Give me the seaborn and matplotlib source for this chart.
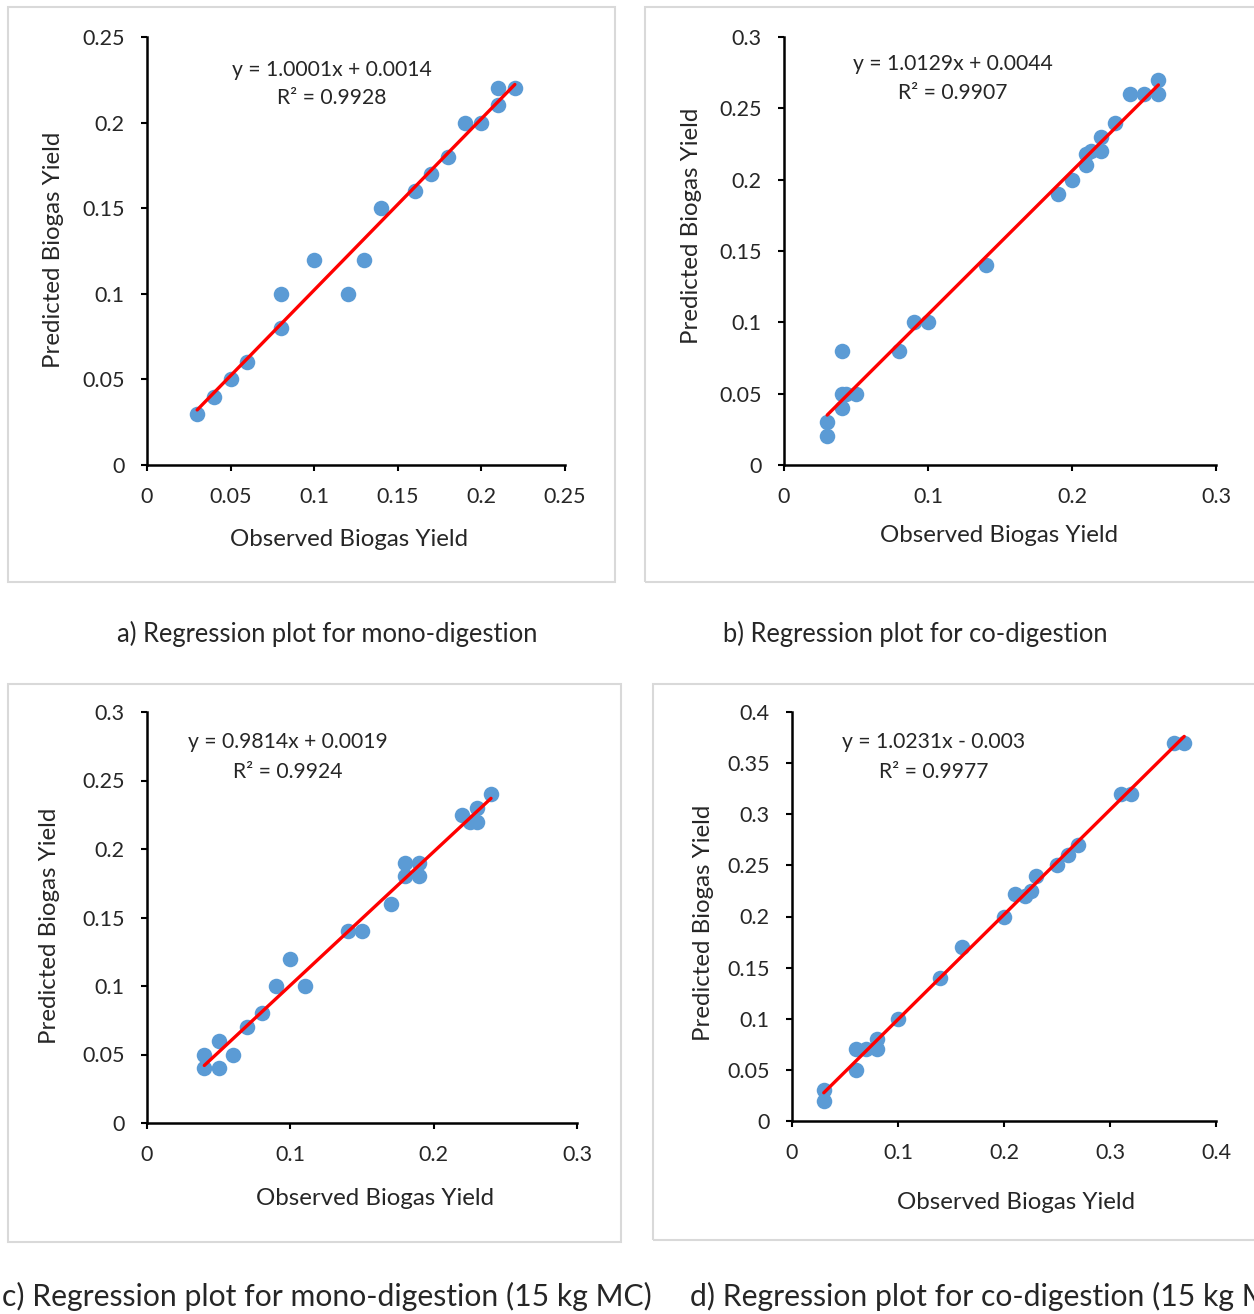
import numpy as np
import seaborn as sns
import matplotlib.pyplot as plt
from matplotlib.patches import Rectangle
from matplotlib.ticker import FuncFormatter

# a) mono-digestion
obs_a = [0.03, 0.04, 0.05, 0.06, 0.08, 0.08, 0.10, 0.12, 0.13, 0.14, 0.16, 0.17,
         0.18, 0.19, 0.20, 0.21, 0.21, 0.22]
pred_a = [0.03, 0.04, 0.05, 0.06, 0.08, 0.10, 0.12, 0.10, 0.12, 0.15, 0.16, 0.17,
          0.18, 0.20, 0.20, 0.21, 0.22, 0.22]

# b) co-digestion
obs_b = [0.03, 0.03, 0.04, 0.04, 0.043, 0.05, 0.04, 0.08, 0.09, 0.10, 0.14, 0.19,
         0.20, 0.21, 0.21, 0.213, 0.22, 0.22, 0.23, 0.24, 0.25, 0.26, 0.26]
pred_b = [0.02, 0.03, 0.04, 0.05, 0.05, 0.05, 0.08, 0.08, 0.10, 0.10, 0.14, 0.19,
          0.20, 0.21, 0.218, 0.22, 0.22, 0.23, 0.24, 0.26, 0.26, 0.26, 0.27]

# c) mono-digestion (15 kg MC)
obs_c = [0.04, 0.04, 0.05, 0.05, 0.06, 0.07, 0.08, 0.09, 0.10, 0.11, 0.14, 0.15,
         0.17, 0.18, 0.18, 0.19, 0.19, 0.22, 0.225, 0.23, 0.23, 0.24]
pred_c = [0.04, 0.05, 0.04, 0.06, 0.05, 0.07, 0.08, 0.10, 0.12, 0.10, 0.14, 0.14,
          0.16, 0.18, 0.19, 0.18, 0.19, 0.225, 0.22, 0.22, 0.23, 0.24]

# d) co-digestion (15 kg MC)
obs_d = [0.03, 0.03, 0.06, 0.06, 0.07, 0.08, 0.08, 0.10, 0.14, 0.16, 0.20, 0.21,
         0.22, 0.225, 0.23, 0.25, 0.26, 0.27, 0.31, 0.32, 0.36, 0.37]
pred_d = [0.02, 0.03, 0.05, 0.07, 0.07, 0.07, 0.08, 0.10, 0.14, 0.17, 0.20, 0.222,
          0.22, 0.225, 0.24, 0.25, 0.26, 0.27, 0.32, 0.32, 0.37, 0.37]

equations = ["y = 1.0001x + 0.0014", "y = 1.0129x + 0.0044",
             "y = 0.9814x + 0.0019", "y = 1.0231x - 0.003"]
r2_labels = ["R² = 0.9928", "R² = 0.9907", "R² = 0.9924", "R² = 0.9977"]
captions = ["a) Regression plot for mono-digestion",
            "b) Regression plot for co-digestion",
            "c) Regression plot for mono-digestion (15 kg MC)",
            "d) Regression plot for co-digestion (15 kg MC)"]

sns.set_theme(style="white")
plt.rcParams["font.family"] = ["Lato", "DejaVu Sans"]

W, H = 1254, 1314
fig = plt.figure(figsize=(W / 100, H / 100), dpi=100)


def px_rect(x0, y0, x1, y1):
    # pixel box -> figure fraction [left, bottom, width, height]
    return [x0 / W, 1 - y1 / H, (x1 - x0) / W, (y1 - y0) / H]


# grey frames around each chart
for x0, y0, x1, y1 in [(8, 7, 615, 582), (645, 7, 1262, 582),
                       (8, 684, 621, 1242), (653, 684, 1262, 1240)]:
    fig.patches.append(Rectangle((x0 / W, 1 - y1 / H), (x1 - x0) / W, (y1 - y0) / H,
                                 transform=fig.transFigure, fill=False,
                                 edgecolor="#d9d9d9", linewidth=1.5))

panels = [
    dict(x=obs_a, y=pred_a, box=(147, 37, 565, 465), lim=0.25, xt=0.05, yt=0.05,
         eq=(0.443, 0.923, 0.857), ylab=(-0.199, 0.502), xlab=(0.483, -0.15)),
    dict(x=obs_b, y=pred_b, box=(784, 37, 1216, 465), lim=0.3, xt=0.1, yt=0.05,
         eq=(0.391, 0.937, 0.869), ylab=(-0.19, 0.56), xlab=(0.498, -0.14)),
    dict(x=obs_c, y=pred_c, box=(147, 712, 577, 1123), lim=0.3, xt=0.1, yt=0.05,
         eq=(0.328, 0.927, 0.854), ylab=(-0.202, 0.479), xlab=(0.53, -0.158)),
    dict(x=obs_d, y=pred_d, box=(792, 712, 1216, 1121), lim=0.4, xt=0.1, yt=0.05,
         eq=(0.335, 0.927, 0.853), ylab=(-0.184, 0.484), xlab=(0.528, -0.174)),
]

fmt = FuncFormatter(lambda v, p: f"{round(v, 4):g}")

for i, p in enumerate(panels):
    ax = fig.add_axes(px_rect(*p["box"]))
    sns.regplot(x=np.array(p["x"]), y=np.array(p["y"]), ax=ax, ci=None,
                scatter_kws=dict(s=125, color="#5b9bd5", alpha=1, linewidths=0),
                line_kws=dict(color="#ff0000", lw=2.4))
    lim = p["lim"]
    ax.set_xlim(0, lim)
    ax.set_ylim(0, lim)
    ax.set_xticks(np.round(np.arange(0, lim + 1e-9, p["xt"]), 3))
    ax.set_yticks(np.round(np.arange(0, lim + 1e-9, p["yt"]), 3))
    ax.xaxis.set_major_formatter(fmt)
    ax.yaxis.set_major_formatter(fmt)
    for s in ["top", "right"]:
        ax.spines[s].set_visible(False)
    for s in ["left", "bottom"]:
        ax.spines[s].set_color("black")
        ax.spines[s].set_linewidth(1.8)
    ax.tick_params(axis="both", direction="out", length=4, width=1.5,
                   color="black", labelsize=15.5, pad=12, left=True, bottom=True)
    ax.set_xlabel("Observed Biogas Yield", fontsize=17.3)
    ax.set_ylabel("Predicted Biogas Yield", fontsize=17.3)
    ax.xaxis.set_label_coords(*p["xlab"])
    ax.yaxis.set_label_coords(*p["ylab"])
    ex, ey1, ey2 = p["eq"]
    ax.text(ex, ey1, equations[i], transform=ax.transAxes, ha="center", va="center",
            fontsize=15.2)
    ax.text(ex, ey2, r2_labels[i], transform=ax.transAxes, ha="center", va="center",
            fontsize=15.2)
    ax.set_facecolor("white")

fig.text(327 / W, 1 - 634 / H, captions[0], ha="center", va="center", fontsize=18.4)
fig.text(915 / W, 1 - 634 / H, captions[1], ha="center", va="center", fontsize=18.4)
fig.text(2 / W, 1 - 1296 / H, captions[2], ha="left", va="center", fontsize=21.7)
fig.text(690 / W, 1 - 1296 / H, captions[3], ha="left", va="center", fontsize=21.7)

fig.savefig("out.png", dpi=100, facecolor="white")
